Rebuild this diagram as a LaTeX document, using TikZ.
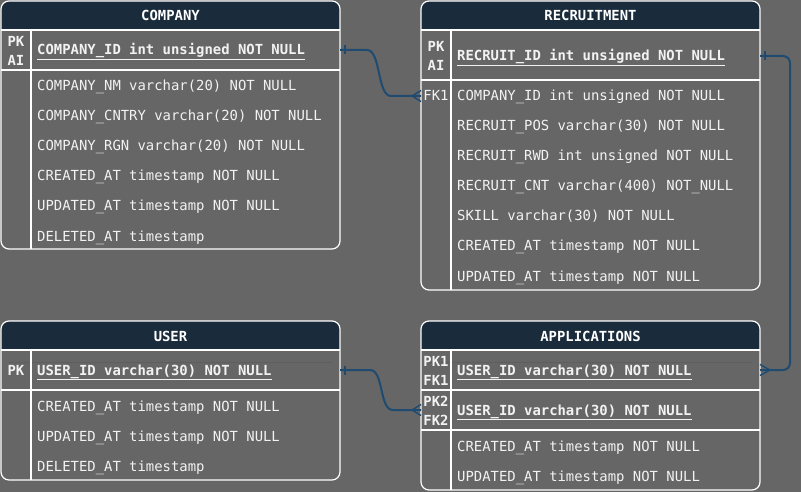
\documentclass[tikz,border=0pt]{standalone}
\usepackage{fontspec}
\setmonofont{DejaVu Sans Mono}
\usepackage{tikz}
\usetikzlibrary{calc}
\definecolor{bggray}{HTML}{666666}
\definecolor{headfill}{HTML}{1A2B3C}
\definecolor{relblue}{HTML}{1F4B70}
\definecolor{txtwhite}{HTML}{F2F2F2}
\tikzset{
	tableline/.style={draw=white, line width=1.2pt},
	relline/.style={draw=relblue, line width=2pt},
	headtext/.style={anchor=base, inner sep=0pt, text=white, font=\ttfamily\bfseries\fontsize{13.9}{18}\selectfont},
	fieldtext/.style={anchor=base west, inner sep=0pt, text=txtwhite, font=\ttfamily\fontsize{13.9}{18}\selectfont},
	keytext/.style={anchor=base west, inner sep=0pt, text=txtwhite, font=\ttfamily\bfseries\fontsize{13.9}{18}\selectfont},
	keylabel/.style={inner sep=0pt, align=center, text=txtwhite, font=\ttfamily\bfseries\fontsize{13.9}{19}\selectfont}
}
% table frame: (left,top)(right,bottom){header bottom}
\def\tableframe(#1,#2)(#3,#4)#5{
	\fill[headfill, rounded corners=8] (#1,#2) rectangle (#3,#5+12);
	\fill[bggray] (#1,#5) rectangle (#3,#5+12);
	\draw[tableline, rounded corners=8] (#1,#2) rectangle (#3,#4);
	\draw[tableline] (#1,#5) -- (#3,#5);
	\draw[tableline] (#1+30,#5) -- (#1+30,#4);
}

\begin{document}
\begin{tikzpicture}[x=1pt, y=-1pt]
		%%%%% START %%%%%
		
		\fill[bggray] (0,0) rectangle (801,492);
		\useasboundingbox (0,0) rectangle (801,492);
		
		%%%%% COMPANY %%%%%
		\tableframe(1,1)(340,249){30}
		\draw[tableline] (1,70) -- (340,70);
		\node[headtext] (company) at (170.5,21) {COMPANY};
		\node[keylabel] (company-pk) at (16,51) {PK\\AI};
		\node[keytext] (company-id) at (37,55) {\underline{COMPANY\_ID int unsigned NOT NULL}};
		\foreach \n/\y/\t in {nm/86/COMPANY\_NM varchar(20) NOT NULL,
			cntry/116/COMPANY\_CNTRY varchar(20) NOT NULL,
			rgn/146/COMPANY\_RGN varchar(20) NOT NULL,
			created/176/CREATED\_AT timestamp NOT NULL,
			updated/206/UPDATED\_AT timestamp NOT NULL,
			deleted/236/DELETED\_AT timestamp}
			\node[fieldtext] (company-\n) at (37,\y+5) {\t};
		\coordinate (company-id-r) at (340,50);
		
		%%%%% RECRUITMENT %%%%%
		\tableframe(421,1)(760,290){30}
		\draw[tableline] (421,80) -- (760,80);
		\node[headtext] (recruit) at (590.5,21) {RECRUITMENT};
		\node[keylabel] (recruit-pk) at (436,56) {PK\\AI};
		\node[keytext] (recruit-id) at (457,61) {\underline{RECRUIT\_ID int unsigned NOT NULL}};
		\node[fieldtext, anchor=base] (recruit-fk) at (436,101) {FK1};
		\foreach \n/\y/\t in {company/96/COMPANY\_ID int unsigned NOT NULL,
			pos/126/RECRUIT\_POS varchar(30) NOT NULL,
			rwd/156/RECRUIT\_RWD int unsigned NOT NULL,
			cnt/186/RECRUIT\_CNT varchar(400) NOT\_NULL,
			skill/216/SKILL varchar(30) NOT NULL,
			created/246/CREATED\_AT timestamp NOT NULL,
			updated/276/UPDATED\_AT timestamp NOT NULL}
			\node[fieldtext] (recruit-\n) at (457,\y+5) {\t};
		\coordinate (recruit-id-r) at (760,56);
		\coordinate (recruit-fk1-l) at (421,96);
		
		%%%%% USER %%%%%
		\tableframe(1,321)(340,480){350}
		\draw[tableline] (1,390) -- (340,390);
		\node[headtext] (user) at (170.5,341) {USER};
		\node[keylabel, anchor=base] (user-pk) at (16,375) {PK};
		\node[keytext] (user-id) at (37,375) {\underline{USER\_ID varchar(30) NOT NULL}};
		\foreach \n/\y/\t in {created/406/CREATED\_AT timestamp NOT NULL,
			updated/436/UPDATED\_AT timestamp NOT NULL,
			deleted/466/DELETED\_AT timestamp}
			\node[fieldtext] (user-\n) at (37,\y+5) {\t};
		\coordinate (user-id-r) at (340,370);
		
		%%%%% APPLICATIONS %%%%%
		\tableframe(421,321)(760,490){350}
		\draw[tableline] (421,390) -- (760,390);
		\draw[tableline] (421,430) -- (760,430);
		\node[headtext] (apps) at (590.5,341) {APPLICATIONS};
		\node[keylabel] (apps-pk1) at (436,371) {PK1\\FK1};
		\node[keytext] (apps-user1) at (457,375) {\underline{USER\_ID varchar(30) NOT NULL}};
		\node[keylabel] (apps-pk2) at (436,411) {PK2\\FK2};
		\node[keytext] (apps-user2) at (457,415) {\underline{USER\_ID varchar(30) NOT NULL}};
		\node[fieldtext] (apps-created) at (457,451) {CREATED\_AT timestamp NOT NULL};
		\node[fieldtext] (apps-updated) at (457,481) {UPDATED\_AT timestamp NOT NULL};
		\coordinate (apps-pk1-r) at (760,370);
		\coordinate (apps-pk2-l) at (421,410);
		
		%%%%% RELATIONS %%%%%
		
		% COMPANY -> RECRUITMENT
		\draw[relline] (company-id-r) -- ++(27,0) .. controls +(14,0) and +(-14,0) .. ([xshift=-30]recruit-fk1-l) -- (recruit-fk1-l);
		\draw[relline] ([xshift=5]company-id-r) ++(0,-4.5) -- ++(0,9);
		\draw[relline, line width=1.4pt] ([xshift=-9]recruit-fk1-l) -- ++(9,-5.5) ([xshift=-9]recruit-fk1-l) -- ++(9,5.5);
		
		% RECRUITMENT -> APPLICATIONS
		\draw[relline, rounded corners=7] (recruit-id-r) -- ++(30,0) |- (apps-pk1-r);
		\draw[relline] ([xshift=5]recruit-id-r) ++(0,-4.5) -- ++(0,9);
		\draw[relline, line width=1.4pt] ([xshift=10]apps-pk1-r) -- ++(-10,-5.5) ([xshift=10]apps-pk1-r) -- ++(-10,5.5);
		
		% USER -> APPLICATIONS
		\draw[relline] (user-id-r) -- ++(30,0) .. controls +(14,0) and +(-14,0) .. ([xshift=-28]apps-pk2-l) -- (apps-pk2-l);
		\draw[relline] ([xshift=5]user-id-r) ++(0,-4.5) -- ++(0,9);
		\draw[relline, line width=1.4pt] ([xshift=-9]apps-pk2-l) -- ++(9,-5.5) ([xshift=-9]apps-pk2-l) -- ++(9,5.5);
		
		%%%%% END %%%%%
\end{tikzpicture}
\end{document}
